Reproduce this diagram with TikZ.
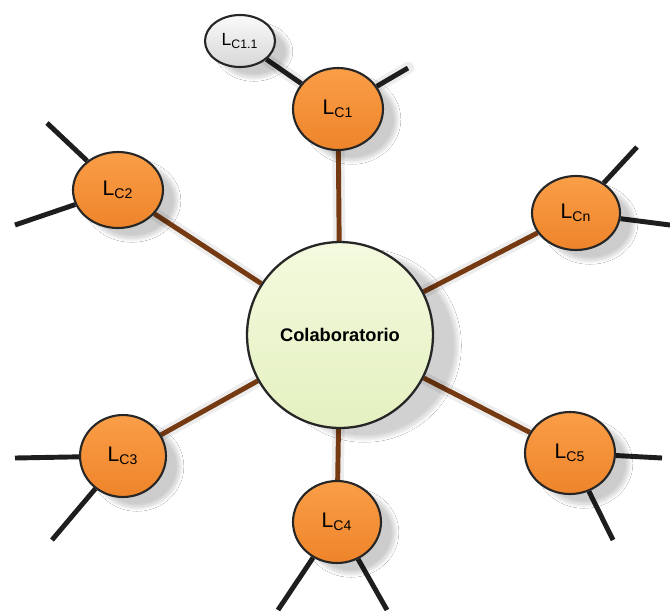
\documentclass[tikz,border=0pt]{standalone}
\usepackage{fontspec}
\setmainfont{Liberation Sans}
\usetikzlibrary{shapes.geometric,shadows.blur,backgrounds}
\definecolor{orngtop}{RGB}{250,158,72}
\definecolor{orngbot}{RGB}{238,132,42}
\definecolor{greentop}{RGB}{244,250,222}
\definecolor{greenbot}{RGB}{228,240,192}
\definecolor{greytop}{RGB}{250,250,250}
\definecolor{greybot}{RGB}{215,215,215}
\definecolor{brownline}{RGB}{118,58,18}
\definecolor{stubline}{RGB}{30,30,30}
\tikzset{
  nodeshadow/.style={blur shadow={shadow xshift=8pt, shadow yshift=-6pt, shadow opacity=20, shadow blur steps=12}},
  labnode/.style={ellipse, draw=black!85, line width=1.2pt, inner sep=0pt, font=\fontsize{12}{14}\selectfont, nodeshadow},
  orangenode/.style={labnode, top color=orngtop, bottom color=orngbot},
  greynode/.style={labnode, top color=greytop, bottom color=greybot},
  centernode/.style={circle, draw=black!85, line width=1.3pt, inner sep=0pt, minimum size=3.72cm, top color=greentop, bottom color=greenbot, font=\fontsize{10.4}{12}\selectfont\bfseries, blur shadow={shadow xshift=14pt, shadow yshift=-6pt, shadow opacity=18, shadow blur steps=14}},
  spoke/.style={draw=brownline, line width=2.8pt},
  stub/.style={draw=stubline, line width=2.8pt},
  lineshadow/.style={draw=black, opacity=0.07, line width=7pt, line cap=round}
}
\begin{document}
\begin{tikzpicture}[x=0.02cm,y=-0.02cm]
\useasboundingbox (0,0) rectangle (670,610);
% nodes
\node[centernode] (C) at (340,335) {Colaboratorio};
\node[orangenode, minimum width=1.8cm, minimum height=1.64cm] (L1) at (338,109) {L\textsubscript{C1}};
\node[greynode, minimum width=1.4cm, minimum height=1.04cm] (L11) at (240,41) {\fontsize{10}{12}\selectfont L\textsubscript{C1.1}};
\node[orangenode, minimum width=1.8cm, minimum height=1.52cm] (L2) at (118,190) {L\textsubscript{C2}};
\node[orangenode, minimum width=1.76cm, minimum height=1.48cm] (Ln) at (576,213) {L\textsubscript{Cn}};
\node[orangenode, minimum width=1.72cm, minimum height=1.64cm] (L3) at (123,456) {L\textsubscript{C3}};
\node[orangenode, minimum width=1.8cm, minimum height=1.64cm] (L5) at (570,453) {L\textsubscript{C5}};
\node[orangenode, minimum width=1.76cm, minimum height=1.64cm] (L4) at (337,522) {L\textsubscript{C4}};
% stub end points
\coordinate (s1) at (408,68);
\coordinate (s2a) at (47,123);
\coordinate (s2b) at (15,225);
\coordinate (sna) at (637,147);
\coordinate (snb) at (670,225);
\coordinate (s3a) at (15,458);
\coordinate (s3b) at (52,540);
\coordinate (s5a) at (662,458);
\coordinate (s5b) at (613,540);
\coordinate (s4a) at (278,610);
\coordinate (s4b) at (387,610);
\begin{pgfonlayer}{background}
  \fill[white] (0,0) rectangle (670,610);
  % soft shadows of connectors
  \begin{scope}[shift={(16,8)}]
    \draw[lineshadow] (C.center) -- (L1.center);
    \draw[lineshadow] (C.center) -- (L2.center);
    \draw[lineshadow] (C.center) -- (Ln.center);
    \draw[lineshadow] (C.center) -- (L3.center);
    \draw[lineshadow] (C.center) -- (L5.center);
    \draw[lineshadow] (C.center) -- (L4.center);
    \draw[lineshadow] (L1.center) -- (s1);
    \draw[lineshadow] (L11.center) -- (L1.center);
  \end{scope}
  % spokes
  \draw[spoke] (C) -- (L1);
  \draw[spoke] (C) -- (L2);
  \draw[spoke] (C) -- (Ln);
  \draw[spoke] (C) -- (L3);
  \draw[spoke] (C) -- (L5);
  \draw[spoke] (C) -- (L4);
  % black stubs
  \draw[stub] (L11) -- (L1);
  \draw[stub] (L1) -- (s1);
  \draw[stub] (L2) -- (s2a);
  \draw[stub] (L2) -- (s2b);
  \draw[stub] (Ln) -- (sna);
  \draw[stub] (Ln) -- (snb);
  \draw[stub] (L3) -- (s3a);
  \draw[stub] (L3) -- (s3b);
  \draw[stub] (L5) -- (s5a);
  \draw[stub] (L5) -- (s5b);
  \draw[stub] (L4) -- (s4a);
  \draw[stub] (L4) -- (s4b);
\end{pgfonlayer}
\end{tikzpicture}
\end{document}
